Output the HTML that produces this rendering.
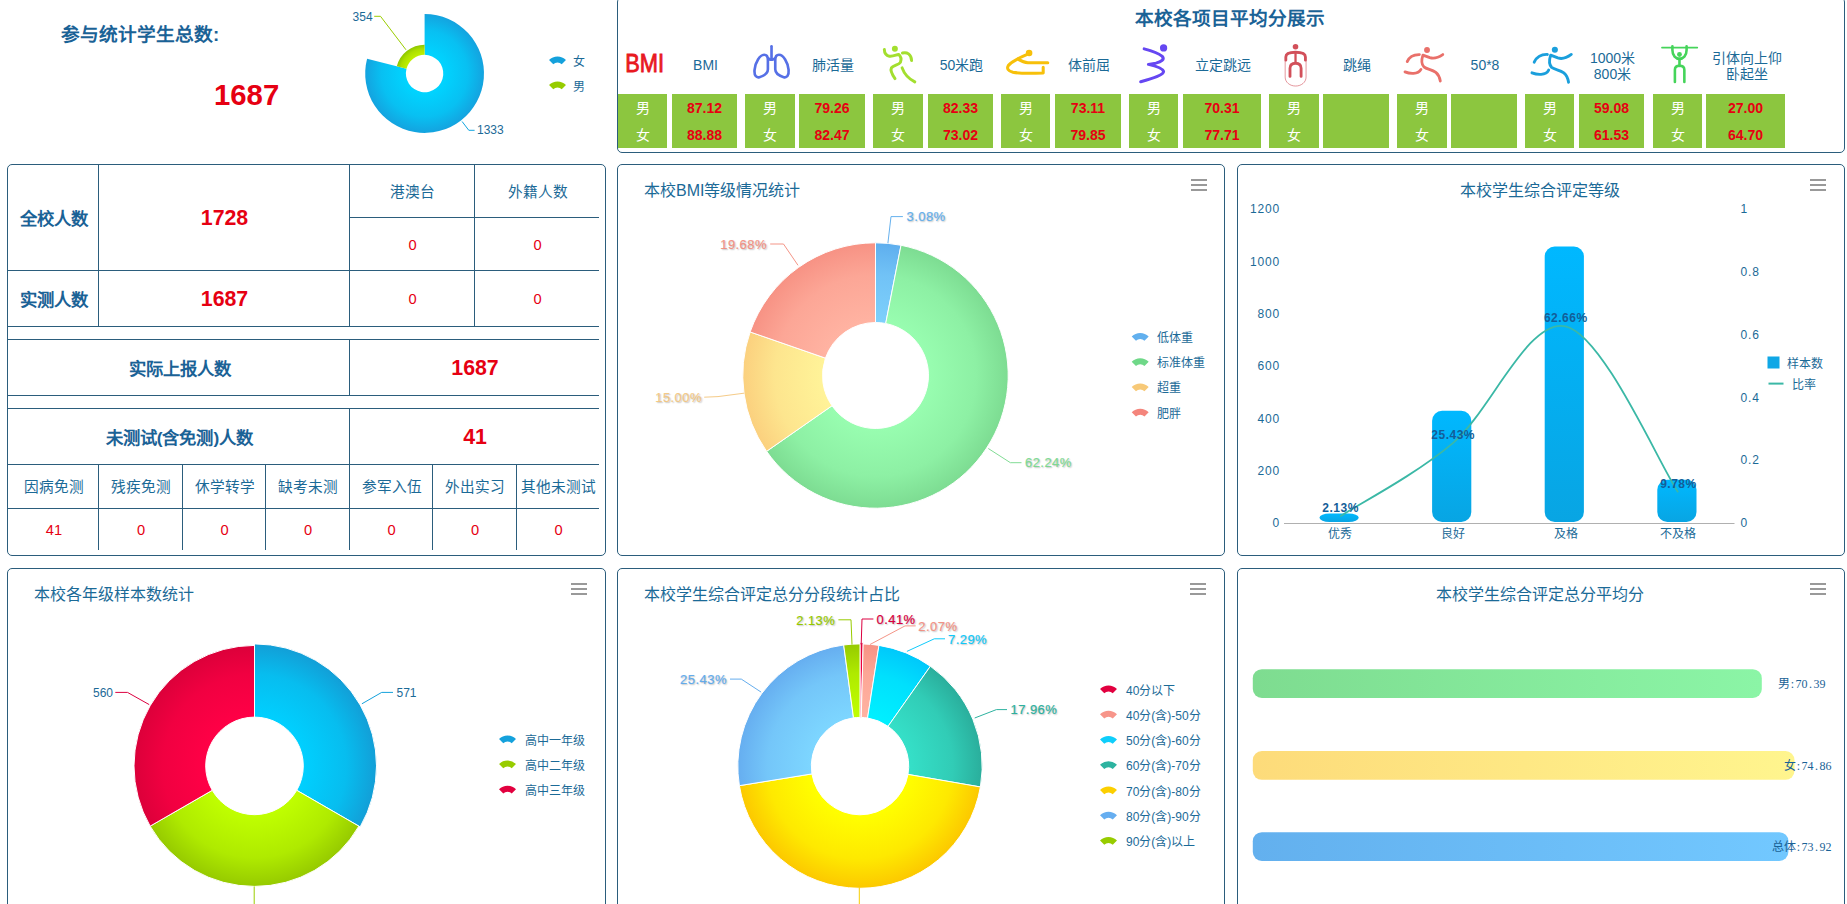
<!DOCTYPE html>
<html lang="zh-CN"><head><meta charset="utf-8"><title>dashboard</title>
<style>
html,body{margin:0;padding:0;background:#fff;}
body{font-family:"Liberation Sans",sans-serif;color:#1b6a97;}
#root{position:relative;width:1847px;height:904px;overflow:hidden;background:#fff;}
.panel{position:absolute;box-sizing:border-box;border:1px solid #2b5d7c;border-radius:5px;background:#fff;}
.t{position:absolute;white-space:nowrap;line-height:1;}
.c{position:absolute;text-align:center;white-space:nowrap;}
svg.g{position:absolute;left:0;top:0;}
svg text{font-family:"Liberation Sans",sans-serif;}
.ln{position:absolute;background:#2b5d7c;}
.gc{position:absolute;background:#8cc63f;}
.ham{position:absolute;width:16px;height:12px;}
.ham i{position:absolute;left:0;width:16px;height:2px;background:#999;}
</style></head><body><div id="root">
<div class="panel" style="left:617px;top:-3px;width:1228px;height:156px"></div>
<div class="panel" style="left:7px;top:164px;width:599px;height:392px"></div>
<div class="panel" style="left:617px;top:164px;width:608px;height:392px"></div>
<div class="panel" style="left:1237px;top:164px;width:608px;height:392px"></div>
<div class="panel" style="left:7px;top:568px;width:599px;height:400px"></div>
<div class="panel" style="left:617px;top:568px;width:608px;height:400px"></div>
<div class="panel" style="left:1237px;top:568px;width:608px;height:400px"></div>
<div class="ham" style="left:1191px;top:179px"><i style="top:0"></i><i style="top:5px"></i><i style="top:10px"></i></div>
<div class="ham" style="left:1810px;top:179px"><i style="top:0"></i><i style="top:5px"></i><i style="top:10px"></i></div>
<div class="ham" style="left:571px;top:583px"><i style="top:0"></i><i style="top:5px"></i><i style="top:10px"></i></div>
<div class="ham" style="left:1190px;top:583px"><i style="top:0"></i><i style="top:5px"></i><i style="top:10px"></i></div>
<div class="ham" style="left:1810px;top:583px"><i style="top:0"></i><i style="top:5px"></i><i style="top:10px"></i></div>
<div class="t" style="left:644px;top:181px;font-size:16px;line-height:20px">本校BMI等级情况统计</div>
<div class="c" style="left:1340px;top:181px;width:400px;font-size:16px;line-height:20px">本校学生综合评定等级</div>
<div class="t" style="left:34px;top:585px;font-size:16px;line-height:20px">本校各年级样本数统计</div>
<div class="t" style="left:644px;top:585px;font-size:16px;line-height:20px">本校学生综合评定总分分段统计占比</div>
<div class="c" style="left:1340px;top:585px;width:400px;font-size:16px;line-height:20px">本校学生综合评定总分平均分</div>
<div class="t" style="left:61px;top:24px;font-size:18.67px;line-height:22px;font-weight:bold;color:#1a6296">参与统计学生总数:</div>
<div class="t" style="left:214px;top:78px;font-size:29.33px;line-height:34px;font-weight:bold;color:#e60012">1687</div>
<div class="c" style="left:1030px;top:8px;width:400px;font-size:18.6px;line-height:22px;font-weight:bold;color:#1a6296">本校各项目平均分展示</div>
<div class="gc" style="left:618px;top:94px;width:49px;height:54px"></div>
<div class="gc" style="left:672px;top:94px;width:65px;height:54px"></div>
<div class="c" style="left:618px;top:95px;width:49px;font-size:14px;line-height:27px;color:#fff">男</div>
<div class="c" style="left:672px;top:95px;width:65px;font-size:14px;line-height:27px;font-weight:bold;color:#e60012">87.12</div>
<div class="c" style="left:618px;top:122px;width:49px;font-size:14px;line-height:27px;color:#fff">女</div>
<div class="c" style="left:672px;top:122px;width:65px;font-size:14px;line-height:27px;font-weight:bold;color:#e60012">88.88</div>
<div class="c" style="left:653px;top:56.8px;width:105px;font-size:14px;line-height:16.7px">BMI</div>
<div class="gc" style="left:745px;top:94px;width:50px;height:54px"></div>
<div class="gc" style="left:799px;top:94px;width:66px;height:54px"></div>
<div class="c" style="left:745px;top:95px;width:50px;font-size:14px;line-height:27px;color:#fff">男</div>
<div class="c" style="left:799px;top:95px;width:66px;font-size:14px;line-height:27px;font-weight:bold;color:#e60012">79.26</div>
<div class="c" style="left:745px;top:122px;width:50px;font-size:14px;line-height:27px;color:#fff">女</div>
<div class="c" style="left:799px;top:122px;width:66px;font-size:14px;line-height:27px;font-weight:bold;color:#e60012">82.47</div>
<div class="c" style="left:780px;top:56.8px;width:106px;font-size:14px;line-height:16.7px">肺活量</div>
<div class="gc" style="left:873px;top:94px;width:50px;height:54px"></div>
<div class="gc" style="left:928px;top:94px;width:65px;height:54px"></div>
<div class="c" style="left:873px;top:95px;width:50px;font-size:14px;line-height:27px;color:#fff">男</div>
<div class="c" style="left:928px;top:95px;width:65px;font-size:14px;line-height:27px;font-weight:bold;color:#e60012">82.33</div>
<div class="c" style="left:873px;top:122px;width:50px;font-size:14px;line-height:27px;color:#fff">女</div>
<div class="c" style="left:928px;top:122px;width:65px;font-size:14px;line-height:27px;font-weight:bold;color:#e60012">73.02</div>
<div class="c" style="left:909px;top:56.8px;width:105px;font-size:14px;line-height:16.7px">50米跑</div>
<div class="gc" style="left:1001px;top:94px;width:49px;height:54px"></div>
<div class="gc" style="left:1055px;top:94px;width:66px;height:54px"></div>
<div class="c" style="left:1001px;top:95px;width:49px;font-size:14px;line-height:27px;color:#fff">男</div>
<div class="c" style="left:1055px;top:95px;width:66px;font-size:14px;line-height:27px;font-weight:bold;color:#e60012">73.11</div>
<div class="c" style="left:1001px;top:122px;width:49px;font-size:14px;line-height:27px;color:#fff">女</div>
<div class="c" style="left:1055px;top:122px;width:66px;font-size:14px;line-height:27px;font-weight:bold;color:#e60012">79.85</div>
<div class="c" style="left:1036px;top:56.8px;width:106px;font-size:14px;line-height:16.7px">体前屈</div>
<div class="gc" style="left:1129px;top:94px;width:49px;height:54px"></div>
<div class="gc" style="left:1183px;top:94px;width:78px;height:54px"></div>
<div class="c" style="left:1129px;top:95px;width:49px;font-size:14px;line-height:27px;color:#fff">男</div>
<div class="c" style="left:1183px;top:95px;width:78px;font-size:14px;line-height:27px;font-weight:bold;color:#e60012">70.31</div>
<div class="c" style="left:1129px;top:122px;width:49px;font-size:14px;line-height:27px;color:#fff">女</div>
<div class="c" style="left:1183px;top:122px;width:78px;font-size:14px;line-height:27px;font-weight:bold;color:#e60012">77.71</div>
<div class="c" style="left:1164px;top:56.8px;width:118px;font-size:14px;line-height:16.7px">立定跳远</div>
<div class="gc" style="left:1269px;top:94px;width:50px;height:54px"></div>
<div class="gc" style="left:1323px;top:94px;width:66px;height:54px"></div>
<div class="c" style="left:1269px;top:95px;width:50px;font-size:14px;line-height:27px;color:#fff">男</div>
<div class="c" style="left:1269px;top:122px;width:50px;font-size:14px;line-height:27px;color:#fff">女</div>
<div class="c" style="left:1304px;top:56.8px;width:106px;font-size:14px;line-height:16.7px">跳绳</div>
<div class="gc" style="left:1397px;top:94px;width:50px;height:54px"></div>
<div class="gc" style="left:1451px;top:94px;width:66px;height:54px"></div>
<div class="c" style="left:1397px;top:95px;width:50px;font-size:14px;line-height:27px;color:#fff">男</div>
<div class="c" style="left:1397px;top:122px;width:50px;font-size:14px;line-height:27px;color:#fff">女</div>
<div class="c" style="left:1432px;top:56.8px;width:106px;font-size:14px;line-height:16.7px">50*8</div>
<div class="gc" style="left:1525px;top:94px;width:49px;height:54px"></div>
<div class="gc" style="left:1579px;top:94px;width:65px;height:54px"></div>
<div class="c" style="left:1525px;top:95px;width:49px;font-size:14px;line-height:27px;color:#fff">男</div>
<div class="c" style="left:1579px;top:95px;width:65px;font-size:14px;line-height:27px;font-weight:bold;color:#e60012">59.08</div>
<div class="c" style="left:1525px;top:122px;width:49px;font-size:14px;line-height:27px;color:#fff">女</div>
<div class="c" style="left:1579px;top:122px;width:65px;font-size:14px;line-height:27px;font-weight:bold;color:#e60012">61.53</div>
<div class="c" style="left:1560px;top:49.5px;width:105px;font-size:14px;line-height:16.7px">1000米<br>800米</div>
<div class="gc" style="left:1653px;top:94px;width:49px;height:54px"></div>
<div class="gc" style="left:1706px;top:94px;width:79px;height:54px"></div>
<div class="c" style="left:1653px;top:95px;width:49px;font-size:14px;line-height:27px;color:#fff">男</div>
<div class="c" style="left:1706px;top:95px;width:79px;font-size:14px;line-height:27px;font-weight:bold;color:#e60012">27.00</div>
<div class="c" style="left:1653px;top:122px;width:49px;font-size:14px;line-height:27px;color:#fff">女</div>
<div class="c" style="left:1706px;top:122px;width:79px;font-size:14px;line-height:27px;font-weight:bold;color:#e60012">64.70</div>
<div class="c" style="left:1687px;top:49.5px;width:119px;font-size:14px;line-height:16.7px">引体向上仰<br>卧起坐</div>
<div class="ln" style="left:349px;top:217px;width:250px;height:1px"></div>
<div class="ln" style="left:8px;top:270px;width:591px;height:1px"></div>
<div class="ln" style="left:8px;top:326px;width:591px;height:1px"></div>
<div class="ln" style="left:8px;top:339px;width:591px;height:1px"></div>
<div class="ln" style="left:8px;top:395px;width:591px;height:1px"></div>
<div class="ln" style="left:8px;top:408px;width:591px;height:1px"></div>
<div class="ln" style="left:8px;top:464px;width:591px;height:1px"></div>
<div class="ln" style="left:8px;top:508px;width:591px;height:1px"></div>
<div class="ln" style="left:98px;top:165px;width:1px;height:161px"></div>
<div class="ln" style="left:349px;top:165px;width:1px;height:161px"></div>
<div class="ln" style="left:474px;top:165px;width:1px;height:161px"></div>
<div class="ln" style="left:349px;top:339px;width:1px;height:56px"></div>
<div class="ln" style="left:349px;top:408px;width:1px;height:56px"></div>
<div class="ln" style="left:98px;top:464px;width:1px;height:86px"></div>
<div class="ln" style="left:182px;top:464px;width:1px;height:86px"></div>
<div class="ln" style="left:265px;top:464px;width:1px;height:86px"></div>
<div class="ln" style="left:349px;top:464px;width:1px;height:86px"></div>
<div class="ln" style="left:432px;top:464px;width:1px;height:86px"></div>
<div class="ln" style="left:516px;top:464px;width:1px;height:86px"></div>
<div class="c" style="left:9px;top:167px;width:90px;height:105px;line-height:105px;font-size:17.33px;color:#1a6296;font-weight:bold;">全校人数</div>
<div class="c" style="left:99px;top:166px;width:251px;height:105px;line-height:105px;font-size:21.33px;color:#e60012;font-weight:bold;">1728</div>
<div class="c" style="left:350px;top:166px;width:125px;height:52px;line-height:52px;font-size:14.67px;color:#1b6a97;">港澳台</div>
<div class="c" style="left:475px;top:166px;width:125px;height:52px;line-height:52px;font-size:14.67px;color:#1b6a97;">外籍人数</div>
<div class="c" style="left:350px;top:219px;width:125px;height:52px;line-height:52px;font-size:14.67px;color:#e60012;">0</div>
<div class="c" style="left:475px;top:219px;width:125px;height:52px;line-height:52px;font-size:14.67px;color:#e60012;">0</div>
<div class="c" style="left:9px;top:273px;width:90px;height:55px;line-height:55px;font-size:17.33px;color:#1a6296;font-weight:bold;">实测人数</div>
<div class="c" style="left:99px;top:272px;width:251px;height:55px;line-height:55px;font-size:21.33px;color:#e60012;font-weight:bold;">1687</div>
<div class="c" style="left:350px;top:272px;width:125px;height:55px;line-height:55px;font-size:14.67px;color:#e60012;">0</div>
<div class="c" style="left:475px;top:272px;width:125px;height:55px;line-height:55px;font-size:14.67px;color:#e60012;">0</div>
<div class="c" style="left:9px;top:342px;width:341px;height:55px;line-height:55px;font-size:17.33px;color:#1a6296;font-weight:bold;">实际上报人数</div>
<div class="c" style="left:350px;top:341px;width:250px;height:55px;line-height:55px;font-size:21.33px;color:#e60012;font-weight:bold;">1687</div>
<div class="c" style="left:9px;top:411px;width:341px;height:55px;line-height:55px;font-size:17.33px;color:#1a6296;font-weight:bold;">未测试(含免测)人数</div>
<div class="c" style="left:350px;top:410px;width:250px;height:55px;line-height:55px;font-size:21.33px;color:#e60012;font-weight:bold;">41</div>
<div class="c" style="left:9px;top:466px;width:90px;height:43px;line-height:43px;font-size:14.67px;color:#1b6a97;">因病免测</div>
<div class="c" style="left:9px;top:510px;width:90px;height:41px;line-height:41px;font-size:14.67px;color:#e60012;">41</div>
<div class="c" style="left:99px;top:466px;width:84px;height:43px;line-height:43px;font-size:14.67px;color:#1b6a97;">残疾免测</div>
<div class="c" style="left:99px;top:510px;width:84px;height:41px;line-height:41px;font-size:14.67px;color:#e60012;">0</div>
<div class="c" style="left:183px;top:466px;width:83px;height:43px;line-height:43px;font-size:14.67px;color:#1b6a97;">休学转学</div>
<div class="c" style="left:183px;top:510px;width:83px;height:41px;line-height:41px;font-size:14.67px;color:#e60012;">0</div>
<div class="c" style="left:266px;top:466px;width:84px;height:43px;line-height:43px;font-size:14.67px;color:#1b6a97;">缺考未测</div>
<div class="c" style="left:266px;top:510px;width:84px;height:41px;line-height:41px;font-size:14.67px;color:#e60012;">0</div>
<div class="c" style="left:350px;top:466px;width:83px;height:43px;line-height:43px;font-size:14.67px;color:#1b6a97;">参军入伍</div>
<div class="c" style="left:350px;top:510px;width:83px;height:41px;line-height:41px;font-size:14.67px;color:#e60012;">0</div>
<div class="c" style="left:433px;top:466px;width:84px;height:43px;line-height:43px;font-size:14.67px;color:#1b6a97;">外出实习</div>
<div class="c" style="left:433px;top:510px;width:84px;height:41px;line-height:41px;font-size:14.67px;color:#e60012;">0</div>
<div class="c" style="left:517px;top:466px;width:83px;height:43px;line-height:43px;font-size:14.67px;color:#1b6a97;">其他未测试</div>
<div class="c" style="left:517px;top:510px;width:83px;height:41px;line-height:41px;font-size:14.67px;color:#e60012;">0</div>
<svg class="g" width="1847" height="904" viewBox="0 0 1847 904">
<defs><radialGradient id="gr1" gradientUnits="userSpaceOnUse" cx="424.6" cy="73.5" r="59.4"><stop offset="0.315" stop-color="#00d4ff"/><stop offset="0.726" stop-color="#08c0f2"/><stop offset="1" stop-color="#14a3df"/></radialGradient>
<radialGradient id="gr2" gradientUnits="userSpaceOnUse" cx="424.6" cy="73.5" r="28.7"><stop offset="0.652" stop-color="#c0f000"/><stop offset="0.861" stop-color="#acdf00"/><stop offset="1" stop-color="#8ec600"/></radialGradient>
<radialGradient id="gb0" gradientUnits="userSpaceOnUse" cx="875.5" cy="375.5" r="132.7"><stop offset="0.399" stop-color="#7dd0fb"/><stop offset="0.760" stop-color="#71c2f6"/><stop offset="1" stop-color="#5eaeee"/></radialGradient>
<radialGradient id="gb1" gradientUnits="userSpaceOnUse" cx="875.5" cy="375.5" r="132.7"><stop offset="0.399" stop-color="#98fdb0"/><stop offset="0.760" stop-color="#8df0a4"/><stop offset="1" stop-color="#7ddc92"/></radialGradient>
<radialGradient id="gb2" gradientUnits="userSpaceOnUse" cx="875.5" cy="375.5" r="132.7"><stop offset="0.399" stop-color="#fff398"/><stop offset="0.760" stop-color="#fde58e"/><stop offset="1" stop-color="#fbd07e"/></radialGradient>
<radialGradient id="gb3" gradientUnits="userSpaceOnUse" cx="875.5" cy="375.5" r="132.7"><stop offset="0.399" stop-color="#ffb3a2"/><stop offset="0.760" stop-color="#fca696"/><stop offset="1" stop-color="#f79284"/></radialGradient>
<linearGradient id="gbar" x1="0" y1="0" x2="0" y2="1"><stop offset="0" stop-color="#00b8ff"/><stop offset="1" stop-color="#08a5e3"/></linearGradient>
<radialGradient id="gg0" gradientUnits="userSpaceOnUse" cx="254.5" cy="765.9" r="120.5"><stop offset="0.405" stop-color="#00d0ff"/><stop offset="0.762" stop-color="#07bdef"/><stop offset="1" stop-color="#12a0d8"/></radialGradient>
<radialGradient id="gg1" gradientUnits="userSpaceOnUse" cx="254.5" cy="765.9" r="120.5"><stop offset="0.405" stop-color="#c0ff00"/><stop offset="0.762" stop-color="#afea00"/><stop offset="1" stop-color="#96ca00"/></radialGradient>
<radialGradient id="gg2" gradientUnits="userSpaceOnUse" cx="254.5" cy="765.9" r="120.5"><stop offset="0.405" stop-color="#ff0046"/><stop offset="0.762" stop-color="#f10041"/><stop offset="1" stop-color="#dc003a"/></radialGradient>
<radialGradient id="gs0" gradientUnits="userSpaceOnUse" cx="860.0" cy="766.1" r="122.2"><stop offset="0.399" stop-color="#ff0046"/><stop offset="0.759" stop-color="#f10041"/><stop offset="1" stop-color="#dc003a"/></radialGradient>
<radialGradient id="gs1" gradientUnits="userSpaceOnUse" cx="860.0" cy="766.1" r="122.2"><stop offset="0.399" stop-color="#ffb3a2"/><stop offset="0.759" stop-color="#fca696"/><stop offset="1" stop-color="#f79284"/></radialGradient>
<radialGradient id="gs2" gradientUnits="userSpaceOnUse" cx="860.0" cy="766.1" r="122.2"><stop offset="0.399" stop-color="#00f0ff"/><stop offset="0.759" stop-color="#00e0fd"/><stop offset="1" stop-color="#00c8fb"/></radialGradient>
<radialGradient id="gs3" gradientUnits="userSpaceOnUse" cx="860.0" cy="766.1" r="122.2"><stop offset="0.399" stop-color="#35e0c8"/><stop offset="0.759" stop-color="#31ccb6"/><stop offset="1" stop-color="#2aae9c"/></radialGradient>
<radialGradient id="gs4" gradientUnits="userSpaceOnUse" cx="860.0" cy="766.1" r="122.2"><stop offset="0.399" stop-color="#ffff00"/><stop offset="0.759" stop-color="#fee900"/><stop offset="1" stop-color="#fcc800"/></radialGradient>
<radialGradient id="gs5" gradientUnits="userSpaceOnUse" cx="860.0" cy="766.1" r="122.2"><stop offset="0.399" stop-color="#7dd6ff"/><stop offset="0.759" stop-color="#74c6f9"/><stop offset="1" stop-color="#66aef0"/></radialGradient>
<radialGradient id="gs6" gradientUnits="userSpaceOnUse" cx="860.0" cy="766.1" r="122.2"><stop offset="0.399" stop-color="#c0ff00"/><stop offset="0.759" stop-color="#afea00"/><stop offset="1" stop-color="#96ca00"/></radialGradient>
<linearGradient id="ga0" x1="0" y1="0" x2="1" y2="0"><stop offset="0" stop-color="#7edc90"/><stop offset="1" stop-color="#8bf5a6"/></linearGradient>
<linearGradient id="ga1" x1="0" y1="0" x2="1" y2="0"><stop offset="0" stop-color="#fddb7a"/><stop offset="1" stop-color="#fff58e"/></linearGradient>
<linearGradient id="ga2" x1="0" y1="0" x2="1" y2="0"><stop offset="0" stop-color="#63b0ee"/><stop offset="1" stop-color="#72c8ff"/></linearGradient></defs>
<path d="M424.60,14.10 A59.40,59.40 0 1 1 367.08,58.67 L406.49,68.83 A18.70,18.70 0 1 0 424.60,54.80 Z" fill="url(#gr1)"/>
<path d="M396.81,66.33 A28.70,28.70 0 0 1 424.60,44.80 L424.60,54.80 A18.70,18.70 0 0 0 406.49,68.83 Z" fill="url(#gr2)"/>
<polyline points="406.0,49.8 380.5,16.3 374.2,16.3" fill="none" stroke="#9acd00" stroke-width="1"/>
<text x="372.6" y="16.6" font-size="12" fill="#1b6a97" text-anchor="end" font-weight="normal" dominant-baseline="central" >354</text>
<polyline points="462.1,121.5 468.8,130.3 474.6,130.3" fill="none" stroke="#12a5e0" stroke-width="1"/>
<text x="477.0" y="129.7" font-size="12" fill="#1b6a97" text-anchor="start" font-weight="normal" dominant-baseline="central" >1333</text>
<path d="M549.01,60.01 A12.00,12.00 0 0 1 565.99,60.01 L561.74,64.26 A6.00,6.00 0 0 0 553.26,64.26 Z" fill="#14a1dc"/>
<text x="573.0" y="61.5" font-size="12" fill="#1b6a97" text-anchor="start" font-weight="normal" dominant-baseline="central" >女</text>
<path d="M549.01,85.01 A12.00,12.00 0 0 1 565.99,85.01 L561.74,89.26 A6.00,6.00 0 0 0 553.26,89.26 Z" fill="#97cc00"/>
<text x="573.0" y="86.5" font-size="12" fill="#1b6a97" text-anchor="start" font-weight="normal" dominant-baseline="central" >男</text>
<path d="M875.50,242.80 A132.70,132.70 0 0 1 901.02,245.28 L885.69,323.49 A53.00,53.00 0 0 0 875.50,322.50 Z" fill="url(#gb0)" stroke="#fff" stroke-width="1" stroke-linejoin="round"/>
<path d="M901.02,245.28 A132.70,132.70 0 1 1 766.60,451.32 L832.00,405.78 A53.00,53.00 0 1 0 885.69,323.49 Z" fill="url(#gb1)" stroke="#fff" stroke-width="1" stroke-linejoin="round"/>
<path d="M766.60,451.32 A132.70,132.70 0 0 1 750.14,331.96 L825.43,358.11 A53.00,53.00 0 0 0 832.00,405.78 Z" fill="url(#gb2)" stroke="#fff" stroke-width="1" stroke-linejoin="round"/>
<path d="M750.14,331.96 A132.70,132.70 0 0 1 875.50,242.80 L875.50,322.50 A53.00,53.00 0 0 0 825.43,358.11 Z" fill="url(#gb3)" stroke="#fff" stroke-width="1" stroke-linejoin="round"/>
<polyline points="887.9,243.2 891.0,216.6 902.9,216.6" fill="none" stroke="#66b1ee" stroke-width="1"/>
<text x="906.5" y="216.8" font-size="13" fill="#66b1ee" text-anchor="start" font-weight="normal" dominant-baseline="central" style="text-shadow:1px 1px 1.5px rgba(0,0,0,0.2)" stroke="#66b1ee" stroke-width="0.2" letter-spacing="0.45">3.08%</text>
<polyline points="988.3,448.5 1010.4,462.7 1021.5,462.7" fill="none" stroke="#82dc95" stroke-width="1"/>
<text x="1025.0" y="462.9" font-size="13" fill="#82dc95" text-anchor="start" font-weight="normal" dominant-baseline="central" style="text-shadow:1px 1px 1.5px rgba(0,0,0,0.2)" stroke="#82dc95" stroke-width="0.2" letter-spacing="0.45">62.24%</text>
<polyline points="744.0,393.2 718.0,396.6 704.2,397.2" fill="none" stroke="#f5cb88" stroke-width="1"/>
<text x="702.0" y="397.8" font-size="13" fill="#f5cb88" text-anchor="end" font-weight="normal" dominant-baseline="central" style="text-shadow:1px 1px 1.5px rgba(0,0,0,0.2)" stroke="#f5cb88" stroke-width="0.2" letter-spacing="0.45">15.00%</text>
<polyline points="798.0,265.3 783.5,244.0 770.2,244.0" fill="none" stroke="#f49587" stroke-width="1"/>
<text x="767.0" y="244.2" font-size="13" fill="#f49587" text-anchor="end" font-weight="normal" dominant-baseline="central" style="text-shadow:1px 1px 1.5px rgba(0,0,0,0.2)" stroke="#f49587" stroke-width="0.2" letter-spacing="0.45">19.68%</text>
<path d="M1131.71,336.41 A12.00,12.00 0 0 1 1148.69,336.41 L1144.44,340.66 A6.00,6.00 0 0 0 1135.96,340.66 Z" fill="#62b0ee"/>
<text x="1157.0" y="337.9" font-size="12" fill="#1b6a97" text-anchor="start" font-weight="normal" dominant-baseline="central" >低体重</text>
<path d="M1131.71,361.66 A12.00,12.00 0 0 1 1148.69,361.66 L1144.44,365.91 A6.00,6.00 0 0 0 1135.96,365.91 Z" fill="#6fd888"/>
<text x="1157.0" y="363.1" font-size="12" fill="#1b6a97" text-anchor="start" font-weight="normal" dominant-baseline="central" >标准体重</text>
<path d="M1131.71,386.91 A12.00,12.00 0 0 1 1148.69,386.91 L1144.44,391.16 A6.00,6.00 0 0 0 1135.96,391.16 Z" fill="#f7c978"/>
<text x="1157.0" y="388.4" font-size="12" fill="#1b6a97" text-anchor="start" font-weight="normal" dominant-baseline="central" >超重</text>
<path d="M1131.71,412.16 A12.00,12.00 0 0 1 1148.69,412.16 L1144.44,416.41 A6.00,6.00 0 0 0 1135.96,416.41 Z" fill="#f4857c"/>
<text x="1157.0" y="413.6" font-size="12" fill="#1b6a97" text-anchor="start" font-weight="normal" dominant-baseline="central" >肥胖</text>
<line x1="1284" y1="523.5" x2="1734.5" y2="523.5" stroke="#b0b0b0" stroke-width="1"/>
<text x="1280.2" y="523.2" font-size="12" fill="#1b6a97" text-anchor="end" font-weight="normal" dominant-baseline="central" letter-spacing="0.9">0</text>
<text x="1280.2" y="470.9" font-size="12" fill="#1b6a97" text-anchor="end" font-weight="normal" dominant-baseline="central" letter-spacing="0.9">200</text>
<text x="1280.2" y="418.6" font-size="12" fill="#1b6a97" text-anchor="end" font-weight="normal" dominant-baseline="central" letter-spacing="0.9">400</text>
<text x="1280.2" y="366.3" font-size="12" fill="#1b6a97" text-anchor="end" font-weight="normal" dominant-baseline="central" letter-spacing="0.9">600</text>
<text x="1280.2" y="314.0" font-size="12" fill="#1b6a97" text-anchor="end" font-weight="normal" dominant-baseline="central" letter-spacing="0.9">800</text>
<text x="1280.2" y="261.7" font-size="12" fill="#1b6a97" text-anchor="end" font-weight="normal" dominant-baseline="central" letter-spacing="0.9">1000</text>
<text x="1280.2" y="209.4" font-size="12" fill="#1b6a97" text-anchor="end" font-weight="normal" dominant-baseline="central" letter-spacing="0.9">1200</text>
<text x="1740.5" y="523.2" font-size="12" fill="#1b6a97" text-anchor="start" font-weight="normal" dominant-baseline="central" letter-spacing="0.9">0</text>
<text x="1740.5" y="460.4" font-size="12" fill="#1b6a97" text-anchor="start" font-weight="normal" dominant-baseline="central" letter-spacing="0.9">0.2</text>
<text x="1740.5" y="397.7" font-size="12" fill="#1b6a97" text-anchor="start" font-weight="normal" dominant-baseline="central" letter-spacing="0.9">0.4</text>
<text x="1740.5" y="334.9" font-size="12" fill="#1b6a97" text-anchor="start" font-weight="normal" dominant-baseline="central" letter-spacing="0.9">0.6</text>
<text x="1740.5" y="272.2" font-size="12" fill="#1b6a97" text-anchor="start" font-weight="normal" dominant-baseline="central" letter-spacing="0.9">0.8</text>
<text x="1740.5" y="209.4" font-size="12" fill="#1b6a97" text-anchor="start" font-weight="normal" dominant-baseline="central" letter-spacing="0.9">1</text>
<rect x="1319.5" y="513.5" width="39.2" height="8.4" rx="10.0" ry="4.2" fill="url(#gbar)"/>
<text x="1340.3" y="533.5" font-size="12" fill="#1b6a97" text-anchor="middle" font-weight="normal" dominant-baseline="central" >优秀</text>
<rect x="1432.1" y="410.7" width="39.2" height="111.2" rx="10.0" ry="10.0" fill="url(#gbar)"/>
<text x="1452.9" y="533.5" font-size="12" fill="#1b6a97" text-anchor="middle" font-weight="normal" dominant-baseline="central" >良好</text>
<rect x="1544.7" y="246.5" width="39.2" height="275.4" rx="10.0" ry="10.0" fill="url(#gbar)"/>
<text x="1565.5" y="533.5" font-size="12" fill="#1b6a97" text-anchor="middle" font-weight="normal" dominant-baseline="central" >及格</text>
<rect x="1657.3" y="479.8" width="39.2" height="42.1" rx="10.0" ry="10.0" fill="url(#gbar)"/>
<text x="1678.1" y="533.5" font-size="12" fill="#1b6a97" text-anchor="middle" font-weight="normal" dominant-baseline="central" >不及格</text>
<path d="M1340.3,516.2 C1359.1,504.0 1415.4,474.8 1452.9,443.1 C1490.4,411.4 1528.0,318.1 1565.5,326.3 C1603.0,334.5 1659.3,464.6 1678.1,492.2" fill="none" stroke="#3bb8a6" stroke-width="1.8"/>
<text x="1340.6" y="507.6" font-size="12" fill="#135e99" text-anchor="middle" font-weight="bold" dominant-baseline="central" letter-spacing="0.5">2.13%</text>
<text x="1453.2" y="434.5" font-size="12" fill="#135e99" text-anchor="middle" font-weight="bold" dominant-baseline="central" letter-spacing="0.5">25.43%</text>
<text x="1565.8" y="317.7" font-size="12" fill="#135e99" text-anchor="middle" font-weight="bold" dominant-baseline="central" letter-spacing="0.5">62.66%</text>
<text x="1678.4" y="483.6" font-size="12" fill="#135e99" text-anchor="middle" font-weight="bold" dominant-baseline="central" letter-spacing="0.5">9.78%</text>
<rect x="1767.5" y="356.5" width="12" height="12" fill="#0fa7e6"/>
<text x="1786.5" y="363.8" font-size="12" fill="#1b6a97" text-anchor="start" font-weight="normal" dominant-baseline="central" >样本数</text>
<line x1="1768.5" y1="383.6" x2="1783.5" y2="383.6" stroke="#3bb8a6" stroke-width="2"/>
<text x="1791.5" y="384.8" font-size="12" fill="#1b6a97" text-anchor="start" font-weight="normal" dominant-baseline="central" >比率</text>
<path d="M254.50,643.90 A122.00,122.00 0 0 1 360.16,826.90 L296.76,790.30 A48.80,48.80 0 0 0 254.50,717.10 Z" fill="url(#gg0)" stroke="#fff" stroke-width="1" stroke-linejoin="round"/>
<path d="M358.86,826.15 A120.50,120.50 0 0 1 150.14,826.15 L212.24,790.30 A48.80,48.80 0 0 0 296.76,790.30 Z" fill="url(#gg1)" stroke="#fff" stroke-width="1" stroke-linejoin="round"/>
<path d="M150.14,826.15 A120.50,120.50 0 0 1 254.50,645.40 L254.50,717.10 A48.80,48.80 0 0 0 212.24,790.30 Z" fill="url(#gg2)" stroke="#fff" stroke-width="1" stroke-linejoin="round"/>
<polyline points="361.9,703.8 381.7,692.4 393.0,692.4" fill="none" stroke="#14a1dc" stroke-width="1"/>
<text x="396.5" y="692.6" font-size="12" fill="#1b6a97" text-anchor="start" font-weight="normal" dominant-baseline="central" >571</text>
<polyline points="149.2,704.6 127.5,692.4 115.3,692.4" fill="none" stroke="#dc0040" stroke-width="1"/>
<text x="113.0" y="692.6" font-size="12" fill="#1b6a97" text-anchor="end" font-weight="normal" dominant-baseline="central" >560</text>
<polyline points="254.2,886.5 254.2,910.0" fill="none" stroke="#9acd00" stroke-width="1"/>
<path d="M499.01,739.01 A12.00,12.00 0 0 1 515.99,739.01 L511.74,743.26 A6.00,6.00 0 0 0 503.26,743.26 Z" fill="#14a1dc"/>
<text x="524.5" y="740.5" font-size="12" fill="#1b6a97" text-anchor="start" font-weight="normal" dominant-baseline="central" >高中一年级</text>
<path d="M499.01,764.11 A12.00,12.00 0 0 1 515.99,764.11 L511.74,768.36 A6.00,6.00 0 0 0 503.26,768.36 Z" fill="#97cc00"/>
<text x="524.5" y="765.6" font-size="12" fill="#1b6a97" text-anchor="start" font-weight="normal" dominant-baseline="central" >高中二年级</text>
<path d="M499.01,789.21 A12.00,12.00 0 0 1 515.99,789.21 L511.74,793.46 A6.00,6.00 0 0 0 503.26,793.46 Z" fill="#e2003f"/>
<text x="524.5" y="790.7" font-size="12" fill="#1b6a97" text-anchor="start" font-weight="normal" dominant-baseline="central" >高中三年级</text>
<path d="M860.00,642.70 A123.40,123.40 0 0 1 863.18,642.74 L861.25,717.42 A48.70,48.70 0 0 0 860.00,717.40 Z" fill="url(#gs0)" stroke="#fff" stroke-width="1" stroke-linejoin="round"/>
<path d="M863.15,643.94 A122.20,122.20 0 0 1 878.96,645.38 L867.56,717.99 A48.70,48.70 0 0 0 861.25,717.42 Z" fill="url(#gs1)" stroke="#fff" stroke-width="1" stroke-linejoin="round"/>
<path d="M878.96,645.38 A122.20,122.20 0 0 1 930.39,666.21 L888.05,726.29 A48.70,48.70 0 0 0 867.56,717.99 Z" fill="url(#gs2)" stroke="#fff" stroke-width="1" stroke-linejoin="round"/>
<path d="M930.39,666.21 A122.20,122.20 0 0 1 980.41,786.96 L907.99,774.41 A48.70,48.70 0 0 0 888.05,726.29 Z" fill="url(#gs3)" stroke="#fff" stroke-width="1" stroke-linejoin="round"/>
<path d="M980.41,786.96 A122.20,122.20 0 0 1 739.38,785.67 L811.93,773.90 A48.70,48.70 0 0 0 907.99,774.41 Z" fill="url(#gs4)" stroke="#fff" stroke-width="1" stroke-linejoin="round"/>
<path d="M739.38,785.67 A122.20,122.20 0 0 1 843.69,644.99 L853.50,717.84 A48.70,48.70 0 0 0 811.93,773.90 Z" fill="url(#gs5)" stroke="#fff" stroke-width="1" stroke-linejoin="round"/>
<path d="M843.69,644.99 A122.20,122.20 0 0 1 860.00,643.90 L860.00,717.40 A48.70,48.70 0 0 0 853.50,717.84 Z" fill="url(#gs6)" stroke="#fff" stroke-width="1" stroke-linejoin="round"/>
<polyline points="861.2,644.5 862.0,619.0 873.4,619.0" fill="none" stroke="#dc0040" stroke-width="1"/>
<text x="876.5" y="619.2" font-size="13" fill="#dc0040" text-anchor="start" font-weight="normal" dominant-baseline="central" style="text-shadow:1px 1px 1.5px rgba(0,0,0,0.2)" stroke="#dc0040" stroke-width="0.2" letter-spacing="0.45">0.41%</text>
<polyline points="870.0,644.5 905.0,625.9 915.7,625.9" fill="none" stroke="#f49587" stroke-width="1"/>
<text x="918.3" y="626.1" font-size="13" fill="#f49587" text-anchor="start" font-weight="normal" dominant-baseline="central" style="text-shadow:1px 1px 1.5px rgba(0,0,0,0.2)" stroke="#f49587" stroke-width="0.2" letter-spacing="0.45">2.07%</text>
<polyline points="906.9,651.4 934.3,638.8 945.0,638.8" fill="none" stroke="#11cbfb" stroke-width="1"/>
<text x="948.0" y="639.0" font-size="13" fill="#11cbfb" text-anchor="start" font-weight="normal" dominant-baseline="central" style="text-shadow:1px 1px 1.5px rgba(0,0,0,0.2)" stroke="#11cbfb" stroke-width="0.2" letter-spacing="0.45">7.29%</text>
<polyline points="974.7,718.0 996.4,709.6 1007.0,709.6" fill="none" stroke="#2fb3a0" stroke-width="1"/>
<text x="1010.5" y="709.8" font-size="13" fill="#2fb3a0" text-anchor="start" font-weight="normal" dominant-baseline="central" style="text-shadow:1px 1px 1.5px rgba(0,0,0,0.2)" stroke="#2fb3a0" stroke-width="0.2" letter-spacing="0.45">17.96%</text>
<polyline points="859.3,887.5 859.3,910.0" fill="none" stroke="#f7cd00" stroke-width="1"/>
<polyline points="761.1,692.1 741.3,679.1 730.0,679.1" fill="none" stroke="#66aeee" stroke-width="1"/>
<text x="726.9" y="679.3" font-size="13" fill="#66aeee" text-anchor="end" font-weight="normal" dominant-baseline="central" style="text-shadow:1px 1px 1.5px rgba(0,0,0,0.2)" stroke="#66aeee" stroke-width="0.2" letter-spacing="0.45">25.43%</text>
<polyline points="852.0,644.5 851.0,619.8 838.4,619.8" fill="none" stroke="#98cb00" stroke-width="1"/>
<text x="835.3" y="620.0" font-size="13" fill="#98cb00" text-anchor="end" font-weight="normal" dominant-baseline="central" style="text-shadow:1px 1px 1.5px rgba(0,0,0,0.2)" stroke="#98cb00" stroke-width="0.2" letter-spacing="0.45">2.13%</text>
<path d="M1100.01,689.01 A12.00,12.00 0 0 1 1116.99,689.01 L1112.74,693.26 A6.00,6.00 0 0 0 1104.26,693.26 Z" fill="#e2003f"/>
<text x="1126.0" y="690.5" font-size="12" fill="#1b6a97" text-anchor="start" font-weight="normal" dominant-baseline="central" >40分以下</text>
<path d="M1100.01,714.26 A12.00,12.00 0 0 1 1116.99,714.26 L1112.74,718.51 A6.00,6.00 0 0 0 1104.26,718.51 Z" fill="#f7958a"/>
<text x="1126.0" y="715.8" font-size="12" fill="#1b6a97" text-anchor="start" font-weight="normal" dominant-baseline="central" >40分(含)-50分</text>
<path d="M1100.01,739.51 A12.00,12.00 0 0 1 1116.99,739.51 L1112.74,743.76 A6.00,6.00 0 0 0 1104.26,743.76 Z" fill="#0fcefb"/>
<text x="1126.0" y="741.0" font-size="12" fill="#1b6a97" text-anchor="start" font-weight="normal" dominant-baseline="central" >50分(含)-60分</text>
<path d="M1100.01,764.76 A12.00,12.00 0 0 1 1116.99,764.76 L1112.74,769.01 A6.00,6.00 0 0 0 1104.26,769.01 Z" fill="#2db3a0"/>
<text x="1126.0" y="766.2" font-size="12" fill="#1b6a97" text-anchor="start" font-weight="normal" dominant-baseline="central" >60分(含)-70分</text>
<path d="M1100.01,790.01 A12.00,12.00 0 0 1 1116.99,790.01 L1112.74,794.26 A6.00,6.00 0 0 0 1104.26,794.26 Z" fill="#fccf00"/>
<text x="1126.0" y="791.5" font-size="12" fill="#1b6a97" text-anchor="start" font-weight="normal" dominant-baseline="central" >70分(含)-80分</text>
<path d="M1100.01,815.26 A12.00,12.00 0 0 1 1116.99,815.26 L1112.74,819.51 A6.00,6.00 0 0 0 1104.26,819.51 Z" fill="#66aef0"/>
<text x="1126.0" y="816.8" font-size="12" fill="#1b6a97" text-anchor="start" font-weight="normal" dominant-baseline="central" >80分(含)-90分</text>
<path d="M1100.01,840.51 A12.00,12.00 0 0 1 1116.99,840.51 L1112.74,844.76 A6.00,6.00 0 0 0 1104.26,844.76 Z" fill="#97cc00"/>
<text x="1126.0" y="842.0" font-size="12" fill="#1b6a97" text-anchor="start" font-weight="normal" dominant-baseline="central" >90分(含)以上</text>
<rect x="1252.8" y="669.2" width="509.0" height="28.7" rx="9" ry="9" fill="url(#ga0)"/>
<rect x="1252.8" y="751.1" width="541.7" height="28.7" rx="9" ry="9" fill="url(#ga1)"/>
<rect x="1252.8" y="832.2" width="535.6" height="28.7" rx="9" ry="9" fill="url(#ga2)"/>
<text y="683.6" font-size="12" fill="#1a6296" dominant-baseline="central" style="font-family:'Liberation Serif',serif"><tspan x="1783.5" text-anchor="middle">男</tspan><tspan x="1792.5" text-anchor="middle">:</tspan><tspan x="1798.5" text-anchor="middle">7</tspan><tspan x="1804.5" text-anchor="middle">0</tspan><tspan x="1810.5" text-anchor="middle">.</tspan><tspan x="1816.5" text-anchor="middle">3</tspan><tspan x="1822.5" text-anchor="middle">9</tspan></text>
<text y="766.0" font-size="12" fill="#1a6296" dominant-baseline="central" style="font-family:'Liberation Serif',serif"><tspan x="1789.5" text-anchor="middle">女</tspan><tspan x="1798.5" text-anchor="middle">:</tspan><tspan x="1804.5" text-anchor="middle">7</tspan><tspan x="1810.5" text-anchor="middle">4</tspan><tspan x="1816.5" text-anchor="middle">.</tspan><tspan x="1822.5" text-anchor="middle">8</tspan><tspan x="1828.5" text-anchor="middle">6</tspan></text>
<text y="847.0" font-size="12" fill="#1a6296" dominant-baseline="central" style="font-family:'Liberation Serif',serif"><tspan x="1777.5" text-anchor="middle">总</tspan><tspan x="1789.5" text-anchor="middle">体</tspan><tspan x="1798.5" text-anchor="middle">:</tspan><tspan x="1804.5" text-anchor="middle">7</tspan><tspan x="1810.5" text-anchor="middle">3</tspan><tspan x="1816.5" text-anchor="middle">.</tspan><tspan x="1822.5" text-anchor="middle">9</tspan><tspan x="1828.5" text-anchor="middle">2</tspan></text>
<text x="625.3" y="71.9" font-size="25" fill="#e8191f" stroke="#e8191f" stroke-width="0.85" textLength="38.8" lengthAdjust="spacingAndGlyphs">BMI</text>
<g transform="translate(745,40) scale(0.04977)" fill="none" stroke-linecap="round" stroke-linejoin="round"><g stroke="#5670e6" stroke-width="53"><path d="M533,128 L533,392"/><path d="M472,372 Q500,402 533,392 Q566,402 598,372"/><path d="M460,400 C460,330 430,297 385,297 C300,297 205,450 192,600 C182,720 230,762 290,747 C380,722 460,680 460,590 Z"/><path d="M608,400 C608,330 638,297 683,297 C768,297 863,450 876,600 C886,720 838,762 778,747 C688,722 608,680 608,590 Z"/></g></g>
<g transform="translate(872,40) scale(0.04977)" fill="none" stroke-linecap="round" stroke-linejoin="round"><circle cx="460" cy="178" r="60" fill="#a3df2f" stroke="none"/><g stroke="#a3df2f" stroke-width="60"><path d="M248,190 C250,260 280,310 350,325 C420,335 480,300 535,290 C580,330 590,400 570,450 C545,500 420,510 390,560 C365,610 410,700 462,775"/><path d="M612,262 C700,240 790,280 795,412"/><path d="M605,560 C640,660 740,780 860,842"/></g></g>
<g transform="translate(1000,40) scale(0.04977)" fill="none" stroke-linecap="round" stroke-linejoin="round"><circle cx="585" cy="262" r="66" fill="#f7c00a" stroke="none"/><g stroke="#f7c00a" stroke-width="61"><path d="M560,285 C450,330 250,420 170,510 C130,570 160,622 260,647 C400,674 700,670 868,662 L868,548"/><path d="M360,385 C420,420 480,452 560,456 L960,456"/></g></g>
<g transform="translate(1128,40) scale(0.04977)" fill="none" stroke-linecap="round" stroke-linejoin="round"><circle cx="715" cy="160" r="73" fill="#6547f2" stroke="none"/><path d="M325,178 C450,210 620,270 690,330 C740,390 670,440 560,465 L410,490 C520,515 700,570 715,630 C720,700 500,770 255,840" stroke="#6547f2" stroke-width="61"/></g>
<g transform="translate(1268,40) scale(0.04977)" fill="none" stroke-linecap="round" stroke-linejoin="round"><circle cx="553" cy="135" r="56" fill="#d2505a" stroke="none"/><g stroke="#d2505a"><path d="M358,405 L358,340 C358,272 420,247 553,247 C690,247 752,272 752,340 L752,405" stroke-width="57"/><path d="M553,250 L553,460" stroke-width="46"/><path d="M442,732 L442,570 C442,492 490,467 553,467 C615,467 665,492 665,570 L665,732" stroke-width="57"/><path d="M345,420 L345,745 C345,850 440,925 555,925 C668,925 765,850 765,745 L765,420" stroke-width="12"/></g></g>
<g transform="translate(1398,40) scale(0.04977)" fill="none" stroke-linecap="round" stroke-linejoin="round"><circle cx="583" cy="200" r="59" fill="#e9706a" stroke="none"/><g stroke="#e9706a" stroke-width="56"><path d="M185,435 C220,350 310,290 430,292"/><path d="M900,293 C830,340 720,380 640,355 L500,305 C470,400 460,480 520,540 C580,590 680,590 760,650 C820,700 840,760 850,825"/><path d="M140,640 C230,680 400,700 462,590"/></g></g>
<g transform="translate(1526,40) scale(0.04977)" fill="none" stroke-linecap="round" stroke-linejoin="round"><circle cx="580" cy="195" r="61" fill="#1a9fdc" stroke="none"/><g stroke="#1a9fdc" stroke-width="58"><path d="M165,445 C210,350 300,285 430,290"/><path d="M910,290 C830,350 720,385 640,360 L495,305 C465,400 455,490 515,550 C580,600 680,600 760,660 C825,715 845,780 855,850"/><path d="M120,660 C220,700 400,720 455,605"/></g></g>
<g transform="translate(1652,40) scale(0.04977)" fill="none" stroke-linecap="round" stroke-linejoin="round"><circle cx="552" cy="292" r="49" fill="#45d45a" stroke="none"/><g stroke="#45d45a" stroke-width="52"><path d="M200,152 L910,152" stroke-width="34"/><path d="M410,125 L410,200 C410,320 480,380 552,380 C625,380 695,320 695,200 L695,125"/><path d="M552,380 L552,520"/><path d="M460,845 L460,600 C460,540 500,517 552,517 C605,517 650,540 650,600 L650,845"/></g></g>
</svg>
</div></body></html>
